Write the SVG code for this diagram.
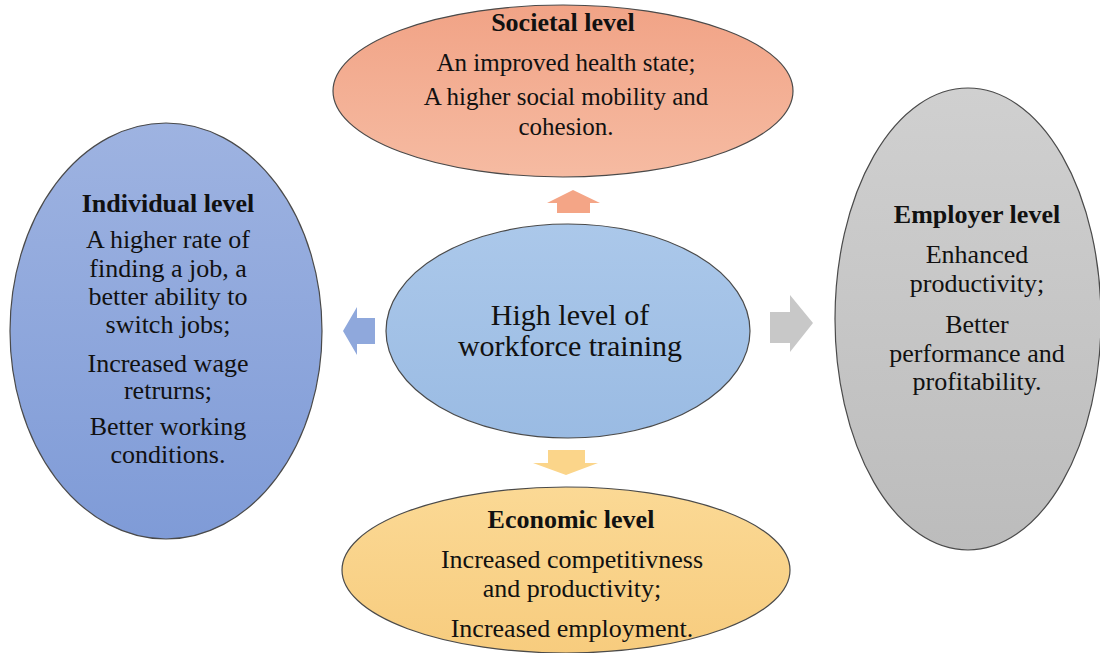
<svg xmlns="http://www.w3.org/2000/svg" width="1100" height="653" viewBox="0 0 1100 653">
  <defs>
    <linearGradient id="gSoc" x1="0" y1="0" x2="0" y2="1">
      <stop offset="0" stop-color="#f1a386"/>
      <stop offset="1" stop-color="#f6bba2"/>
    </linearGradient>
    <linearGradient id="gInd" x1="0" y1="0" x2="0" y2="1">
      <stop offset="0" stop-color="#9eb3e1"/>
      <stop offset="1" stop-color="#7f9bd7"/>
    </linearGradient>
    <linearGradient id="gCen" x1="0" y1="0" x2="0" y2="1">
      <stop offset="0" stop-color="#abc8ea"/>
      <stop offset="1" stop-color="#9abbe3"/>
    </linearGradient>
    <linearGradient id="gEmp" x1="0" y1="0" x2="0" y2="1">
      <stop offset="0" stop-color="#d0d0d0"/>
      <stop offset="1" stop-color="#bcbcbc"/>
    </linearGradient>
    <linearGradient id="gEco" x1="0" y1="0" x2="0" y2="1">
      <stop offset="0" stop-color="#fbd995"/>
      <stop offset="1" stop-color="#f7cc7e"/>
    </linearGradient>
  </defs>
  <style>
    .shape { stroke: #4a4a4a; stroke-width: 1.2; }
    text { font-family: "Liberation Serif", "Times New Roman", serif; fill: #111; text-anchor: middle; }
    .title { font-weight: bold; font-size: 26px; }
    .body { font-size: 26px; }
    .soc { font-size: 25px; }
    .core { font-size: 30px; }
  </style>

  <rect width="1100" height="653" fill="#ffffff"/>

  <!-- block arrows radiating from the centre -->
  <g id="connectors">
    <polygon fill="#f4a586" points="573,190 600,203 590,203 590,213 557,213 557,203 547,203"/>
    <polygon fill="#8fa8dc" points="343,331 357,307 357,318 375,318 375,344 357,344 357,355"/>
    <polygon fill="#c8c8c8" points="813,323 790,295 790,312 770,312 770,343 790,343 790,352"/>
    <polygon fill="#fbd58a" points="566,475 598,463 585,463 585,450 548,450 548,463 533,463"/>
  </g>

  <g id="node-societal">
    <ellipse class="shape" cx="563" cy="91" rx="230" ry="86" fill="url(#gSoc)"/>
    <text class="title" x="563" y="31">Societal level</text>
    <text class="body soc" x="566" y="71">An improved health state;</text>
    <text class="body soc" x="566" y="105">A higher social mobility and</text>
    <text class="body soc" x="566" y="135">cohesion.</text>
  </g>

  <g id="node-individual">
    <ellipse class="shape" cx="166" cy="331" rx="156" ry="208" fill="url(#gInd)"/>
    <text class="title" x="168" y="212">Individual level</text>
    <text class="body" x="168" y="248">A higher rate of</text>
    <text class="body" x="168" y="277">finding a job, a</text>
    <text class="body" x="168" y="305">better ability to</text>
    <text class="body" x="168" y="333">switch jobs;</text>
    <text class="body" x="168" y="372">Increased wage</text>
    <text class="body" x="168" y="399">retrurns;</text>
    <text class="body" x="168" y="435">Better working</text>
    <text class="body" x="168" y="463">conditions.</text>
  </g>

  <g id="node-center">
    <ellipse class="shape" cx="568" cy="331" rx="182" ry="107" fill="url(#gCen)"/>
    <text class="core" x="570" y="325">High level of</text>
    <text class="core" x="570" y="356">workforce training</text>
  </g>

  <g id="node-employer">
    <ellipse class="shape" cx="968" cy="319" rx="133" ry="231" fill="url(#gEmp)"/>
    <text class="title" x="977" y="223">Employer level</text>
    <text class="body" x="977" y="263">Enhanced</text>
    <text class="body" x="977" y="292">productivity;</text>
    <text class="body" x="977" y="333">Better</text>
    <text class="body" x="977" y="362">performance and</text>
    <text class="body" x="977" y="390">profitability.</text>
  </g>

  <g id="node-economic">
    <ellipse class="shape" cx="566" cy="570" rx="224" ry="83" fill="url(#gEco)"/>
    <text class="title" x="571" y="528">Economic level</text>
    <text class="body" x="572" y="568">Increased competitivness</text>
    <text class="body" x="572" y="597">and productivity;</text>
    <text class="body" x="572" y="637">Increased employment.</text>
  </g>
</svg>
